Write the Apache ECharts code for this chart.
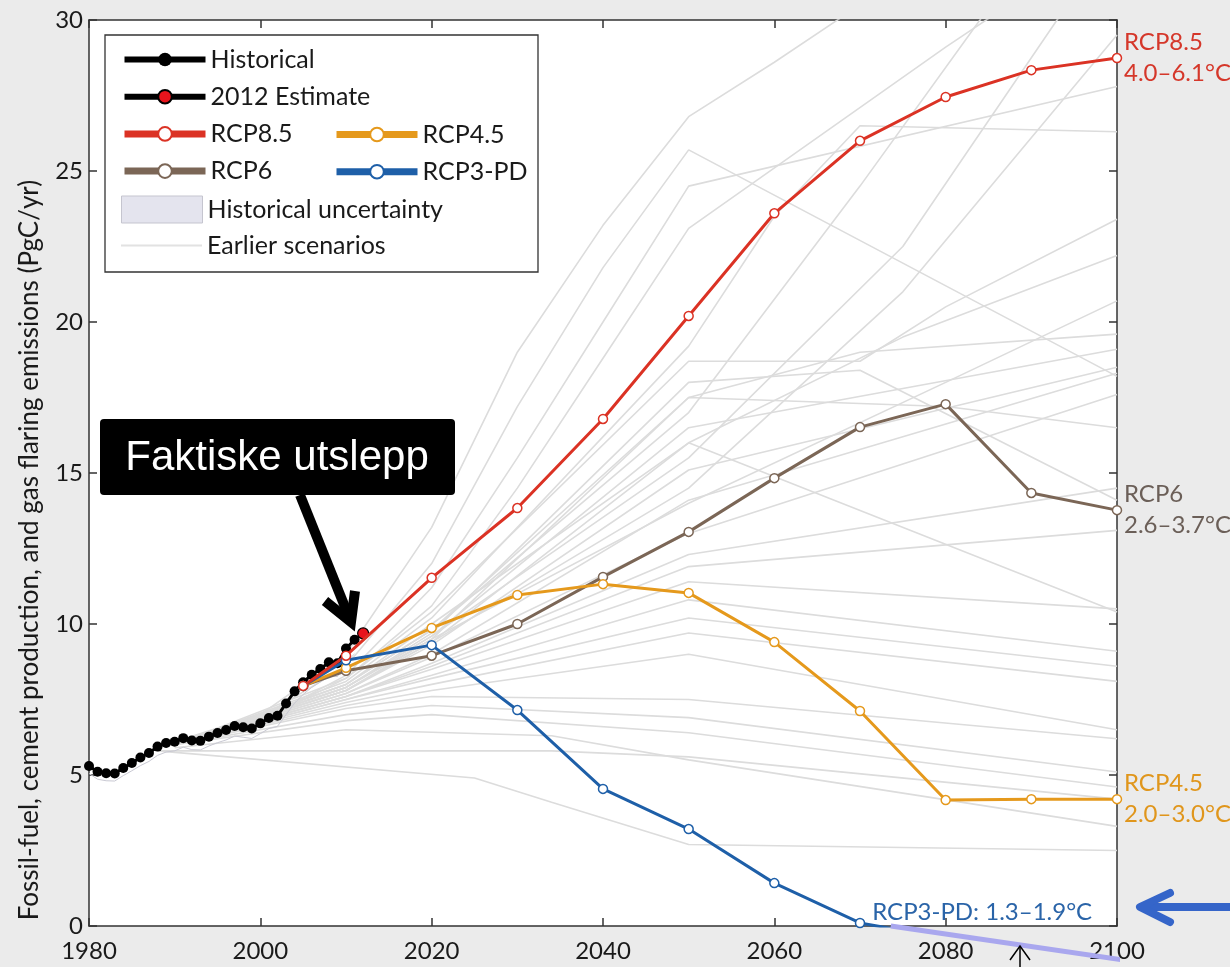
<!DOCTYPE html>
<html><head><meta charset="utf-8">
<script src="https://cdn.jsdelivr.net/npm/echarts@6/dist/echarts.min.js"></script>
<style>html,body{margin:0;padding:0;background:#ebebeb}#c{width:1230px;height:967px}</style>
</head><body><div id="c"></div><script>
const FONT = 'Lato, "Open Sans", sans-serif';

// ---- data ----
const histYears = [1980,1981,1982,1983,1984,1985,1986,1987,1988,1989,1990,1991,1992,1993,1994,1995,1996,1997,1998,1999,2000,2001,2002,2003,2004,2005,2006,2007,2008,2009,2010,2011];
const histValues = [5.30,5.11,5.06,5.05,5.23,5.40,5.58,5.73,5.94,6.06,6.10,6.22,6.14,6.13,6.27,6.39,6.49,6.62,6.58,6.54,6.71,6.89,6.96,7.37,7.77,8.07,8.32,8.51,8.73,8.70,9.19,9.48];
const histBandHalf = [0.25,0.25,0.25,0.25,0.25,0.26,0.27,0.28,0.29,0.30,0.30,0.30,0.30,0.30,0.31,0.32,0.33,0.33,0.33,0.33,0.34,0.35,0.35,0.37,0.39,0.40,0.42,0.43,0.44,0.44,0.46,0.47];
const estimateYears = [2011, 2012];
const estimateValues = [9.48, 9.69];

const rcpYears = [2005,2010,2020,2030,2040,2050,2060,2070,2080,2090,2100];
const rcp85 = [7.95,8.95,11.53,13.84,16.79,20.20,23.60,26.00,27.45,28.34,28.74];
const rcp6  = [7.95,8.45,8.95,10.00,11.56,13.05,14.83,16.52,17.28,14.34,13.77];
const rcp45 = [7.95,8.55,9.87,10.96,11.32,11.03,9.40,7.12,4.17,4.20,4.20];
const rcp3pdYears = [2005,2010,2020,2030,2040,2050,2060,2070,2080];
const rcp3pd = [7.95,8.80,9.30,7.15,4.54,3.21,1.42,0.10,-0.40];

const overlayYears = [2073.6, 2101.6];
const overlayValues = [0, -1.16];

const earlierScenarios = [
  [[1990,6.1],[2000,7.0],[2010,9.0],[2020,13.2],[2030,19.0],[2040,23.2],[2050,26.8],[2060,28.6],[2070,30.5]],
  [[1990,6.1],[2000,6.9],[2010,8.6],[2020,12.0],[2030,17.2],[2040,21.8],[2050,25.7],[2100,18.2]],
  [[1990,6.0],[2000,6.8],[2010,8.3],[2020,11.2],[2030,15.5],[2040,20.0],[2050,24.5],[2100,27.8]],
  [[1990,6.0],[2000,6.8],[2010,8.2],[2020,10.6],[2030,14.5],[2040,18.8],[2050,23.1],[2080,29.1],[2090,31.0]],
  [[1990,6.0],[2010,8.0],[2020,9.8],[2050,17.0],[2070,24.5],[2084,30.0],[2090,32.5]],
  [[1990,6.0],[2010,7.9],[2020,9.6],[2050,15.5],[2075,22.5],[2093,30.0],[2100,32.5]],
  [[1990,6.0],[2010,7.8],[2020,9.4],[2050,14.5],[2075,21.0],[2100,29.5]],
  [[1990,6.0],[2010,8.1],[2020,10.2],[2050,19.2],[2060,23.5],[2070,26.5],[2100,26.3]],
  [[1990,6.0],[2010,8.2],[2020,10.4],[2050,18.7],[2070,18.7],[2080,20.5],[2100,23.4]],
  [[1990,6.0],[2010,8.0],[2020,10.0],[2050,16.0],[2075,19.5],[2100,22.2]],
  [[1990,6.0],[2010,7.9],[2020,9.5],[2050,14.0],[2080,18.0],[2100,20.7]],
  [[1990,6.0],[2010,8.0],[2020,9.8],[2050,17.5],[2070,19.0],[2100,19.6]],
  [[1990,6.0],[2010,7.9],[2020,9.6],[2050,16.5],[2100,19.1]],
  [[1990,6.0],[2010,7.8],[2020,9.3],[2050,15.1],[2100,18.5]],
  [[1990,6.0],[2010,7.7],[2020,9.0],[2050,14.1],[2100,18.3]],
  [[1990,6.0],[2010,7.7],[2020,8.9],[2050,13.0],[2100,17.6]],
  [[1990,6.0],[2010,7.8],[2020,9.5],[2050,17.5],[2080,17.2],[2100,16.5]],
  [[1990,6.0],[2010,7.6],[2020,8.7],[2050,12.3],[2100,14.5]],
  [[1990,6.0],[2010,7.9],[2020,9.7],[2050,18.0],[2070,18.4],[2100,14.1]],
  [[1990,6.0],[2010,7.6],[2020,8.6],[2050,11.9],[2100,13.1]],
  [[1990,6.0],[2010,7.8],[2020,9.4],[2050,16.0],[2100,10.4]],
  [[1990,6.0],[2010,7.6],[2020,8.5],[2050,11.4],[2100,10.5]],
  [[1990,6.0],[2010,7.5],[2020,8.3],[2050,10.8],[2100,9.1]],
  [[1990,6.0],[2010,7.5],[2020,8.2],[2050,10.2],[2100,8.6]],
  [[1990,6.0],[2010,7.4],[2020,8.0],[2050,9.7],[2100,8.1]],
  [[1990,6.0],[2010,7.3],[2020,7.8],[2050,9.0],[2100,6.5]],
  [[1990,6.0],[2010,7.2],[2020,7.6],[2050,7.5],[2100,6.2]],
  [[1990,6.0],[2010,7.0],[2020,7.3],[2050,6.9],[2100,5.1]],
  [[1990,6.0],[2010,6.8],[2020,7.0],[2050,6.4],[2100,4.6]],
  [[1990,5.9],[2010,6.5],[2034,6.3],[2050,5.5],[2100,3.3]],
  [[1988,5.8],[2025,4.9],[2034,4.1],[2050,2.7],[2100,2.5]],
  [[1988,5.8],[2034,5.8],[2050,5.6],[2100,4.2]]
];

// ---- chart ----
const pairs = (xs, ys) => xs.map((x, i) => [x, ys[i]]);
const series = [];
earlierScenarios.forEach(line => series.push({
  name: 'Earlier scenarios', type: 'line', data: line, symbol: 'none', silent: true,
  lineStyle: { color: '#dcdcdc', width: 1.6 }, itemStyle: { color: '#dcdcdc' }, z: 1
}));
series.push({
  name: 'bandBase', type: 'line', stack: 'band', symbol: 'none', silent: true,
  data: histYears.map((y, i) => [y, histValues[i] - histBandHalf[i]]),
  lineStyle: { color: '#c9c9d3', width: 1 }, z: 2
});
series.push({
  name: 'Historical uncertainty', type: 'line', stack: 'band', symbol: 'none', silent: true,
  data: histYears.map((y, i) => [y, 2 * histBandHalf[i]]),
  lineStyle: { color: '#c9c9d3', width: 1 }, areaStyle: { color: '#e4e4ee', opacity: 1 },
  itemStyle: { color: '#e4e4ee' }, z: 2
});
series.push({
  name: 'Historical', type: 'line', data: pairs(histYears, histValues),
  symbol: 'circle', symbolSize: 10, showAllSymbol: true,
  lineStyle: { color: '#000', width: 3 }, itemStyle: { color: '#000' }, z: 4
});
series.push({
  name: '2012 Estimate', type: 'line',
  data: [{ value: [estimateYears[0], estimateValues[0]], symbol: 'none' }, [estimateYears[1], estimateValues[1]]],
  symbol: 'circle', symbolSize: 11,
  lineStyle: { color: '#000', width: 3 },
  itemStyle: { color: '#e8141c', borderColor: '#000', borderWidth: 1.2 }, z: 4
});
function rcpSeries(name, years, vals, color, label, labelColor) {
  const s = {
    name, type: 'line', data: pairs(years, vals),
    symbol: 'circle', symbolSize: 9, showAllSymbol: true,
    lineStyle: { color, width: 3 },
    itemStyle: { color: '#fff', borderColor: color, borderWidth: 1.5 }, z: 5
  };
  if (label) s.endLabel = { show: true, formatter: label, color: labelColor, fontFamily: FONT, fontSize: 24, lineHeight: 31, distance: 7 };
  return s;
}
series.push(rcpSeries('RCP6', rcpYears, rcp6, '#7b6656', 'RCP6\n2.6–3.7°C', '#6b5f58'));
series.push(rcpSeries('RCP4.5', rcpYears, rcp45, '#e5991c', 'RCP4.5\n2.0–3.0°C', '#e0961c'));
const s3 = rcpSeries('RCP3-PD', rcp3pdYears, rcp3pd, '#1e5fa8', null, null);
s3.data = rcp3pdYears.map((y, i) => {
  if (y === 2070) return { value: [y, rcp3pd[i]], label: { show: true, formatter: 'RCP3-PD: 1.3–1.9°C', position: 'right', offset: [2, -11], color: '#2a64a8', fontFamily: FONT, fontSize: 24 } };
  if (y === 2080) return { value: [y, rcp3pd[i]], symbol: 'none' };
  return [y, rcp3pd[i]];
});
series.push(s3);
series.push(rcpSeries('RCP8.5', rcpYears, rcp85, '#db3224', 'RCP8.5\n4.0–6.1°C', '#d5372a'));
series.push({
  name: 'overlay', type: 'line', data: pairs(overlayYears, overlayValues), symbol: 'none', clip: false, silent: true,
  lineStyle: { color: '#a9a7ee', width: 5 }, z: 20
});

const axisLineStyle = { color: '#333', width: 1.5 };
const legendText = { fontFamily: FONT, fontSize: 25, color: '#1a1a1a', lineHeight: 22 };

const option = {
  animation: false,
  backgroundColor: '#ebebeb',
  grid: { left: 89, right: 113, top: 20, bottom: 41, show: true, backgroundColor: '#fff', borderWidth: 0 },
  xAxis: [
    { type: 'value', min: 1980, max: 2100, interval: 20,
      axisLine: { show: true, onZero: false, lineStyle: axisLineStyle },
      axisTick: { show: true, inside: true, length: 8, lineStyle: axisLineStyle },
      axisLabel: { fontFamily: FONT, fontSize: 24, color: '#1a1a1a', margin: 13, formatter: v => String(v) },
      splitLine: { show: false } },
    { type: 'value', position: 'top', min: 1980, max: 2100, interval: 20,
      axisLine: { show: true, onZero: false, lineStyle: axisLineStyle },
      axisTick: { show: true, inside: true, length: 8, lineStyle: axisLineStyle },
      axisLabel: { show: false }, splitLine: { show: false } }
  ],
  yAxis: [
    { type: 'value', min: 0, max: 30, interval: 5,
      name: 'Fossil-fuel, cement production, and gas flaring emissions (PgC/yr)',
      nameLocation: 'middle', nameGap: 46,
      nameTextStyle: { fontFamily: FONT, fontSize: 26, color: '#1a1a1a', padding: [0, 154, 0, 0] },
      axisLine: { show: true, onZero: false, lineStyle: axisLineStyle },
      axisTick: { show: true, inside: true, length: 8, lineStyle: axisLineStyle },
      axisLabel: { fontFamily: FONT, fontSize: 24, color: '#1a1a1a', margin: 6 },
      splitLine: { show: false } },
    { type: 'value', position: 'right', min: 0, max: 30, interval: 5,
      axisLine: { show: true, onZero: false, lineStyle: axisLineStyle },
      axisTick: { show: true, inside: true, length: 8, lineStyle: axisLineStyle },
      axisLabel: { show: false }, splitLine: { show: false } }
  ],
  legend: [
    { orient: 'vertical', left: 121, top: 47, padding: 0, itemGap: 12.2, itemWidth: 81, itemHeight: 17,
      selectedMode: false, textStyle: legendText,
      data: [
        { name: 'Historical', lineStyle: { width: 6 } },
        { name: '2012 Estimate', lineStyle: { width: 6 } },
        { name: 'RCP8.5', lineStyle: { width: 7 } },
        { name: 'RCP6', lineStyle: { width: 7 } }
      ] },
    { orient: 'vertical', left: 333, top: 122, padding: 0, itemGap: 12.2, itemWidth: 81, itemHeight: 17,
      selectedMode: false, textStyle: legendText,
      data: [
        { name: 'RCP4.5', lineStyle: { width: 7 } },
        { name: 'RCP3-PD', lineStyle: { width: 7 } }
      ] },
    { orient: 'vertical', left: 121, top: 195.5, padding: 0, itemWidth: 81, itemHeight: 27,
      selectedMode: false, textStyle: legendText,
      data: [{ name: 'Historical uncertainty', icon: 'rect', itemStyle: { color: '#e4e4ee', borderColor: '#c5c5cf', borderWidth: 1 } }] },
    { orient: 'vertical', left: 121, top: 233, padding: 0, itemWidth: 81, itemHeight: 2,
      selectedMode: false, textStyle: legendText,
      data: [{ name: 'Earlier scenarios', icon: 'rect', itemStyle: { color: '#e2e2e2' } }] }
  ],
  graphic: [
    { type: 'rect', z: 3, shape: { x: 105, y: 35, width: 433, height: 237 },
      style: { fill: '#fff', stroke: '#333', lineWidth: 1.3 } },
    { type: 'rect', z: 100, shape: { x: 100, y: 419, width: 355, height: 76, r: 4 }, style: { fill: '#000' } },
    { type: 'text', z: 101, x: 277, y: 458,
      style: { text: 'Faktiske utslepp', fill: '#fff', font: '42px "Liberation Sans", Arial, sans-serif', textAlign: 'center', textVerticalAlign: 'middle' } },
    { type: 'polyline', z: 100, shape: { points: [[300, 495], [349, 617]] }, style: { stroke: '#000', lineWidth: 10, fill: null } },
    { type: 'polyline', z: 100, shape: { points: [[325, 601], [351, 622], [355, 591]] }, style: { stroke: '#000', lineWidth: 10, fill: null, lineJoin: 'miter' } },
    { type: 'polyline', z: 100, shape: { points: [[1232, 907], [1142, 907]] }, style: { stroke: '#3565c9', lineWidth: 8, fill: null, lineCap: 'round' } },
    { type: 'polyline', z: 100, shape: { points: [[1170, 893], [1140, 907], [1170, 922]] }, style: { stroke: '#3565c9', lineWidth: 8, fill: null, lineCap: 'round', lineJoin: 'round' } },
    { type: 'polyline', z: 100, shape: { points: [[1020, 968], [1020, 947]] }, style: { stroke: '#000', lineWidth: 1.5, fill: null } },
    { type: 'polyline', z: 100, shape: { points: [[1010, 960], [1020, 946], [1030, 960]] }, style: { stroke: '#000', lineWidth: 1.5, fill: null } }
  ],
  series
};
const chart = echarts.init(document.getElementById('c'), null, { renderer: 'canvas' });
chart.setOption(option);
</script></body></html>
